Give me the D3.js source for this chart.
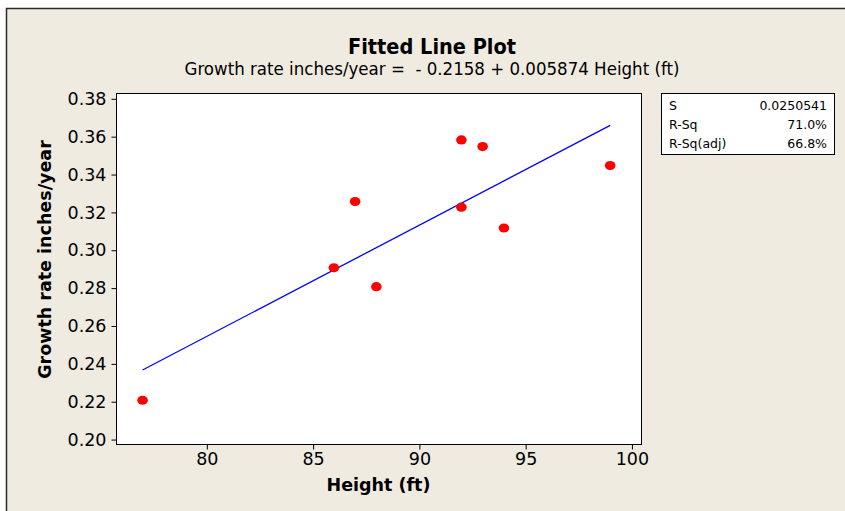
<!DOCTYPE html>
<html>
<head>
<meta charset="utf-8">
<script src="https://cdn.jsdelivr.net/npm/d3@7"></script>
<style>
body { margin: 0; background: #ffffff; }
svg { display: block; }
text { font-family: "DejaVu Sans", Verdana, sans-serif; fill: #000; }
</style>
</head>
<body>
<div id="chart"></div>
<script>
// ----------------------------
// Data
// ----------------------------
var heights = [77, 86, 87, 88, 92, 92, 93, 94, 99];
var growthRates = [0.2205, 0.2905, 0.3255, 0.2805, 0.358, 0.3225, 0.3545, 0.3115, 0.3445];

// regression from the subtitle
var fitIntercept = -0.2158;
var fitSlope = 0.005874;

var xTicks = [80, 85, 90, 95, 100];
var yTicks = [0.20, 0.22, 0.24, 0.26, 0.28, 0.30, 0.32, 0.34, 0.36, 0.38];

var statLabels = ["S", "R-Sq", "R-Sq(adj)"];
var statValues = ["0.0250541", "71.0%", "66.8%"];

var titleText = "Fitted Line Plot";
var subtitleText = "Growth rate inches/year =  - 0.2158 + 0.005874 Height (ft)";
var xTitle = "Height (ft)";
var yTitle = "Growth rate inches/year";

// ----------------------------
// Layout
// ----------------------------
var Vis = {};
Vis.width = 845;
Vis.height = 511;
Vis.left = 116;
Vis.right = 641;
Vis.top = 93;
Vis.bottom = 444;

Vis.svg = d3.select("#chart").append("svg")
	.attr("width", Vis.width)
	.attr("height", Vis.height);

// outer panel with its dark edge, running off the bottom/right
Vis.svg.append("rect")
	.attr("x", 6.5).attr("y", 8.5)
	.attr("width", 900).attr("height", 600)
	.attr("fill", "#efebe1")
	.attr("stroke", "#2a2a2a")
	.attr("stroke-width", 1.5);

// ----------------------------
// Scales
// ----------------------------
Vis.xScale = d3.scaleLinear()
	.domain([75.75, 100.45])
	.range([Vis.left, Vis.right]);

Vis.yScale = d3.scaleLinear()
	.domain([0.1974, 0.3828])
	.range([Vis.bottom, Vis.top]);

// plot area
Vis.svg.append("rect")
	.attr("x", Vis.left + 0.5).attr("y", Vis.top + 0.5)
	.attr("width", Vis.right - Vis.left).attr("height", Vis.bottom - Vis.top)
	.attr("fill", "#ffffff")
	.attr("stroke", "#000")
	.attr("stroke-width", 1);

// ----------------------------
// Axes
// ----------------------------
Vis.xAxis = Vis.svg.append("g")
	.attr("transform", `translate(0.5,${Vis.bottom + 0.5})`)
	.call(d3.axisBottom(Vis.xScale).tickValues(xTicks).tickSize(5).tickPadding(3).tickFormat(d3.format("d")));

Vis.yAxis = Vis.svg.append("g")
	.attr("transform", `translate(${Vis.left + 0.5},0.5)`)
	.call(d3.axisLeft(Vis.yScale).tickValues(yTicks).tickSize(5).tickPadding(5).tickFormat(d3.format(".2f")));

[Vis.xAxis, Vis.yAxis].forEach(function(ax) {
	ax.select(".domain").remove();
	ax.selectAll(".tick line").attr("stroke", "#000");
	ax.selectAll(".tick text")
		.style("font-family", "'DejaVu Sans', Verdana, sans-serif")
		.style("font-size", "17.5px")
		.attr("fill", "#000");
});

// ----------------------------
// Fitted line + points
// ----------------------------
var xMin = d3.min(heights), xMax = d3.max(heights);
Vis.svg.append("line")
	.attr("x1", Vis.xScale(xMin)).attr("y1", Vis.yScale(fitIntercept + fitSlope * xMin))
	.attr("x2", Vis.xScale(xMax)).attr("y2", Vis.yScale(fitIntercept + fitSlope * xMax))
	.attr("stroke", "#0000ff")
	.attr("stroke-width", 1.3);

Vis.svg.selectAll("ellipse.pt")
	.data(heights)
	.enter()
	.append("ellipse")
	.attr("class", "pt")
	.attr("cx", (h, i) => Vis.xScale(h))
	.attr("cy", (h, i) => Vis.yScale(growthRates[i]))
	.attr("rx", 5.3)
	.attr("ry", 4.6)
	.attr("fill", "#ff0000");

// ----------------------------
// Titles
// ----------------------------
Vis.svg.append("text")
	.attr("x", 432).attr("y", 54)
	.attr("text-anchor", "middle")
	.style("font-family", "'DejaVu Sans Condensed', 'DejaVu Sans', sans-serif")
	.style("font-weight", "bold")
	.style("font-size", "21.5px")
	.text(titleText);

Vis.svg.append("text")
	.attr("x", 432).attr("y", 75)
	.attr("text-anchor", "middle")
	.style("white-space", "pre")
	.style("font-family", "'DejaVu Sans Condensed', 'DejaVu Sans', sans-serif")
	.style("font-size", "18.5px")
	.text(subtitleText);

Vis.svg.append("text")
	.attr("x", (Vis.left + Vis.right) / 2).attr("y", 491)
	.attr("text-anchor", "middle")
	.style("font-weight", "bold")
	.style("font-size", "17.5px")
	.text(xTitle);

Vis.svg.append("text")
	.attr("transform", `translate(51,${(Vis.top + Vis.bottom) / 2 - 9}) rotate(-90)`)
	.attr("text-anchor", "middle")
	.style("font-weight", "bold")
	.style("font-size", "17.5px")
	.text(yTitle);

// ----------------------------
// Stats box
// ----------------------------
Vis.stats = Vis.svg.append("g");
Vis.stats.append("rect")
	.attr("x", 661.5).attr("y", 93.5)
	.attr("width", 173).attr("height", 61)
	.attr("fill", "#ffffff")
	.attr("stroke", "#000");

Vis.stats.selectAll("text.lab")
	.data(statLabels)
	.enter()
	.append("text")
	.attr("class", "lab")
	.attr("x", 669)
	.attr("y", (d, i) => 110 + i * 19)
	.style("font-size", "12.5px")
	.text(d => d);

Vis.stats.selectAll("text.val")
	.data(statValues)
	.enter()
	.append("text")
	.attr("class", "val")
	.attr("x", 827)
	.attr("y", (d, i) => 110 + i * 19)
	.attr("text-anchor", "end")
	.style("font-size", "12.5px")
	.text(d => d);
</script>
</body>
</html>
